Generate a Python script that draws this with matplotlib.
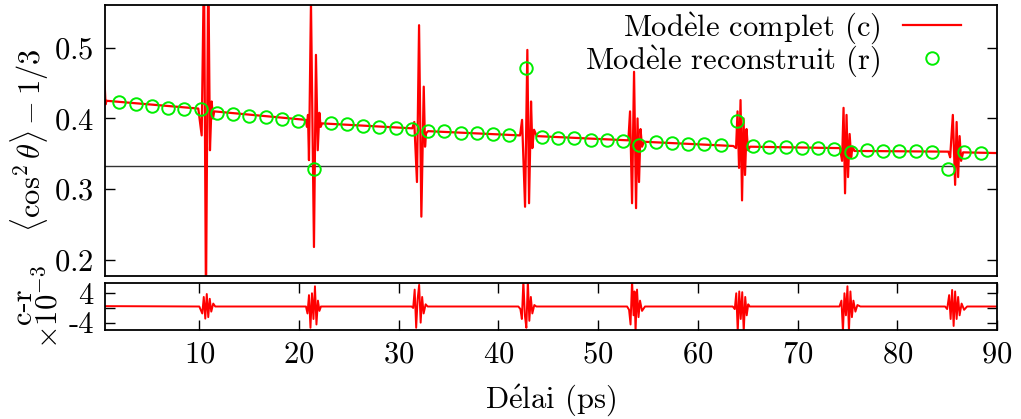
import matplotlib
matplotlib.use("Agg")
import matplotlib.pyplot as plt

plt.rcParams['font.family'] = ['cmr10', 'DejaVu Serif']
plt.rcParams['mathtext.fontset'] = 'cm'
plt.rcParams['axes.formatter.use_mathtext'] = True
plt.rcParams['axes.unicode_minus'] = False

# modele complet (c) : sommets de la courbe
c_x = [0.5, 0.6, 0.7, 9.90,
       10.24, 10.47, 10.67, 10.90, 11.07, 11.24, 11.37, 11.5, 20.67,
       20.80, 20.9, 21.0, 21.2, 21.5, 21.70, 21.88, 22.04, 22.17, 22.31, 31.36,
       31.56, 31.83, 32.04, 32.27, 32.51, 32.64, 32.74, 32.94, 42.17,
       42.37, 42.67, 42.90, 43.07, 43.27, 43.40, 43.57, 43.84, 53.03,
       53.2, 53.40, 53.60, 53.80, 53.95, 54.10, 54.25, 54.40, 54.6, 63.56,
       63.83, 63.98, 64.13, 64.28, 64.43, 64.58, 64.73, 64.88, 65.03, 65.23, 74.26,
       74.46, 74.61, 74.76, 74.91, 75.06, 75.22, 75.37, 75.52, 75.7, 85.13,
       85.30, 85.57, 85.80, 85.95, 86.10, 86.25, 86.40, 86.60, 90.0]
c_y = [0.452, 0.420, 0.425, 0.414,
       0.376, 0.62, 0.14, 0.62, 0.355, 0.424, 0.400, 0.410, 0.398,
       0.388, 0.405, 0.341, 0.565, 0.218, 0.490, 0.355, 0.408, 0.388, 0.393, 0.386,
       0.395, 0.310, 0.532, 0.261, 0.445, 0.360, 0.379, 0.382, 0.376,
       0.398, 0.275, 0.497, 0.280, 0.424, 0.358, 0.384, 0.375, 0.369,
       0.410, 0.280, 0.466, 0.273, 0.400, 0.310, 0.385, 0.360, 0.367, 0.361,
       0.358, 0.410, 0.330, 0.426, 0.284, 0.400, 0.320, 0.385, 0.355, 0.360, 0.358,
       0.340, 0.415, 0.294, 0.405, 0.317, 0.378, 0.345, 0.360, 0.354, 0.353,
       0.345, 0.405, 0.306, 0.395, 0.317, 0.375, 0.340, 0.352, 0.351]

# modele reconstruit (r)
r_x = [1.98, 3.61, 5.24, 6.87, 8.50, 10.13, 11.76, 13.39, 15.02, 16.65,
       18.28, 19.91, 21.54, 23.17, 24.80, 26.43, 28.06, 29.69, 31.32, 32.95,
       34.58, 36.21, 37.84, 39.47, 41.10, 42.73, 44.36, 45.99, 47.62, 49.25,
       50.88, 52.51, 54.14, 55.77, 57.40, 59.03, 60.66, 62.29, 63.92, 65.55,
       67.18, 68.81, 70.44, 72.07, 73.70, 75.33, 76.96, 78.59, 80.22, 81.85,
       83.48, 85.11, 86.74, 88.37]
r_y = [0.423, 0.420, 0.4175, 0.415, 0.413, 0.414, 0.408, 0.406, 0.403, 0.4015,
       0.3995, 0.397, 0.328, 0.393, 0.3916, 0.3897, 0.388, 0.3864, 0.3845, 0.382,
       0.382, 0.380, 0.379, 0.378, 0.3765, 0.471, 0.374, 0.373, 0.372, 0.370,
       0.369, 0.368, 0.362, 0.366, 0.3656, 0.364, 0.3633, 0.362, 0.397, 0.361,
       0.360, 0.3595, 0.358, 0.3577, 0.357, 0.3524, 0.3552, 0.3543, 0.354, 0.3534,
       0.353, 0.3284, 0.352, 0.351]

# residu c-r (x1e-3)
d_x = [0.5,
       10.0, 10.3, 10.45, 10.6, 10.75, 10.9, 11.05, 11.2, 11.4, 11.6,
       20.7, 20.85, 21.0, 21.15, 21.3, 21.45, 21.6, 21.75, 21.9, 22.05, 22.2,
       31.3, 31.45, 31.6, 31.75, 31.9, 32.05, 32.2, 32.35, 32.5, 32.7, 32.9,
       42.0, 42.2, 42.35, 42.5, 42.65, 42.8, 42.95, 43.1, 43.25, 43.4, 43.6, 43.8,
       52.9, 53.1, 53.25, 53.4, 53.55, 53.65, 53.75, 53.9, 54.05, 54.2, 54.4, 54.7,
       63.5, 63.7, 63.85, 64.0, 64.15, 64.3, 64.45, 64.6, 64.75, 64.9, 65.05, 65.2,
       74.2, 74.4, 74.55, 74.7, 74.85, 75.0, 75.15, 75.3, 75.45, 75.6, 75.8, 76.0, 76.3,
       84.8, 85.0, 85.2, 85.35, 85.5, 85.65, 85.8, 85.95, 86.1, 86.25, 86.45, 86.7, 87.0,
       90.0]
d_y = [0.5,
       0.4, -1.5, 3.0, -2.9, 3.8, -2.5, 2.5, -1.0, 1.2, 0.4,
       0.4, -1.5, 3.5, -5.4, 4.0, -3.0, 5.9, -4.5, 2.0, -0.8, 0.4,
       0.4, 0.0, 5.0, -5.4, 2.5, 6.3, -4.0, 3.0, -1.5, 1.0, 0.4,
       0.4, -0.3, -3.0, 7.5, -2.0, -5.4, 7.5, -3.5, 3.0, -1.5, 0.8, 0.4,
       0.4, -0.5, -4.5, 7.6, -2.0, 4.5, -6.5, 5.0, -2.5, 2.0, -0.8, 0.4,
       0.4, -0.3, 4.0, -6.5, 4.5, -3.0, 4.3, -6.5, 3.0, -2.0, 1.0, 0.4,
       0.4, 2.0, -6.5, 4.0, -2.0, 5.9, -6.5, 4.5, -2.5, 2.0, -1.0, 0.8, 0.4,
       0.4, -0.3, 3.5, -3.0, 4.9, -4.9, 4.5, -3.0, 3.0, -2.0, 1.2, -0.5, 0.4,
       0.4]

fs = 22
fig = plt.figure(figsize=(10.21, 4.19), dpi=100)
ax1 = fig.add_axes([0.1028, 0.3413, 0.8737, 0.6475])
ax2 = fig.add_axes([0.1028, 0.2124, 0.8737, 0.1122])

ax1.axhline(1/3, color='#333333', lw=1.0, zorder=1)
ax1.plot(c_x, c_y, color='red', lw=1.6, zorder=2, label='Mod$\\grave{\\rm e}$le complet (c)')
ax1.plot(r_x, r_y, ls='none', marker='o', ms=9, mfc='none', mec='#00ee00', mew=1.4,
         zorder=3, label='Mod$\\grave{\\rm e}$le reconstruit (r)')
ax1.set_xlim(0.54, 90)
ax1.set_ylim(0.177, 0.561)
ax1.set_yticks([0.2, 0.3, 0.4, 0.5])
ax1.set_xticks([])
ax1.set_ylabel(r'$\langle\cos^2\theta\rangle - 1/3$', fontsize=fs, labelpad=2)
ax1.legend(loc='upper right', bbox_to_anchor=(0.965, 0.995), frameon=False, markerfirst=False,
           numpoints=1, fontsize=fs, handlelength=1.9, handletextpad=0.75,
           labelspacing=-0.1, borderaxespad=0.1, borderpad=0.05)

ax2.plot(d_x, d_y, color='red', lw=1.4)
ax2.set_xlim(0.54, 90)
ax2.set_ylim(-6, 6.8)
ax2.set_yticks([-4, 0, 4])
ax2.set_yticklabels(['-4', '', '4'])
ax2.set_xticks([10, 20, 30, 40, 50, 60, 70, 80, 90])
ax2.set_xlabel('D$\\acute{\\rm e}$lai (ps)', fontsize=fs, labelpad=10)
ax2.set_ylabel('c-r\n$\\times10^{-3}$', fontsize=fs, labelpad=4, linespacing=0.8)

for ax in (ax1, ax2):
    ax.tick_params(direction='in', length=7, width=1.0, labelsize=fs,
                   top=True, right=True, pad=8)
    for s in ax.spines.values():
        s.set_linewidth(1.3)

fig.savefig('out.png', dpi=100)
